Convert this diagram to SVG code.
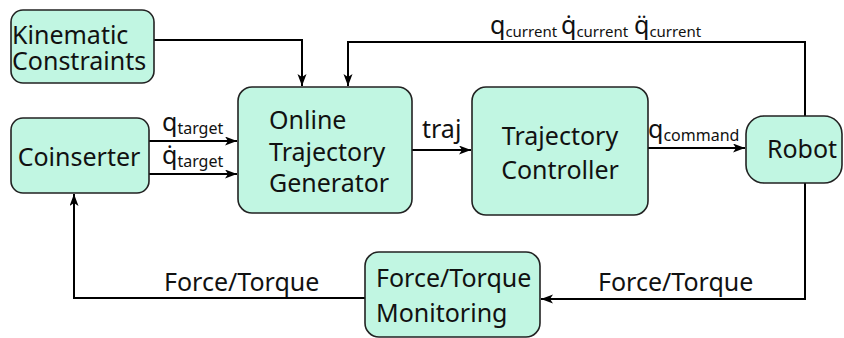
<svg xmlns="http://www.w3.org/2000/svg" width="844" height="338" viewBox="0 0 844 338">
<style>
.box{fill:#c1f6e2;stroke:#222;stroke-width:1.6}
.t{font-family:"Noto Sans","Open Sans",sans-serif;font-size:25px;fill:#111}
.s{font-size:16px}
.s2{font-size:15px}
.c{fill:none;stroke:#000;stroke-width:2}
</style>
<defs>
<marker id="ah" markerUnits="userSpaceOnUse" markerWidth="14" markerHeight="10" refX="12" refY="4.5" orient="auto">
<path d="M0,0 L12,4.5 L0,9 L3,4.5 z" fill="#000"/>
</marker>
</defs>
<rect width="844" height="338" fill="#fff"/>
<g id="connectors">
<path class="c" d="M154,40 H302 V86" marker-end="url(#ah)"/>
<path class="c" d="M805,116 V42 H348 V86" marker-end="url(#ah)"/>
<path class="c" d="M149,141 H237" marker-end="url(#ah)"/>
<path class="c" d="M149,174 H237" marker-end="url(#ah)"/>
<path class="c" d="M412,150 H471" marker-end="url(#ah)"/>
<path class="c" d="M648,148 H745" marker-end="url(#ah)"/>
<path class="c" d="M805,183 V299 H541" marker-end="url(#ah)"/>
<path class="c" d="M365,298 H74 V194" marker-end="url(#ah)"/>
</g>
<g id="labels" class="t">
<text x="162" y="131">q<tspan class="s" dy="3">target</tspan></text>
<text x="162" y="164">q̇<tspan class="s" dy="3">target</tspan></text>
<text x="422" y="138">traj</text>
<text x="648" y="138">q<tspan class="s" dy="3">command</tspan></text>
<text x="490" y="34">q<tspan class="s2" dy="3">current</tspan></text>
<text x="561" y="34">q̇<tspan class="s2" dy="3">current</tspan></text>
<text x="634" y="34">q̈<tspan class="s2" dy="3">current</tspan></text>
<text x="164" y="291">Force/Torque</text>
<text x="598" y="291">Force/Torque</text>
</g>
<g id="kinematic">
<rect class="box" x="11" y="10" width="143" height="73" rx="12"/>
<text class="t" x="12" y="44">Kinematic</text>
<text class="t" x="12" y="70">Constraints</text>
</g>
<g id="coinserter">
<rect class="box" x="11" y="118" width="138" height="75" rx="12"/>
<text class="t" x="79" y="166" text-anchor="middle">Coinserter</text>
</g>
<g id="otg">
<rect class="box" x="238" y="87" width="174" height="126" rx="14"/>
<text class="t" x="269" y="129">Online</text>
<text class="t" x="269" y="161">Trajectory</text>
<text class="t" x="269" y="192">Generator</text>
</g>
<g id="tc">
<rect class="box" x="472" y="87" width="176" height="128" rx="14"/>
<text class="t" x="560" y="145" text-anchor="middle">Trajectory</text>
<text class="t" x="560" y="179" text-anchor="middle">Controller</text>
</g>
<g id="robot">
<rect class="box" x="746" y="116" width="96" height="67" rx="18"/>
<text class="t" x="802" y="158" text-anchor="middle">Robot</text>
</g>
<g id="ftm">
<rect class="box" x="365" y="252" width="175" height="85" rx="14"/>
<text class="t" x="376" y="287">Force/Torque</text>
<text class="t" x="376" y="322">Monitoring</text>
</g>
</svg>
